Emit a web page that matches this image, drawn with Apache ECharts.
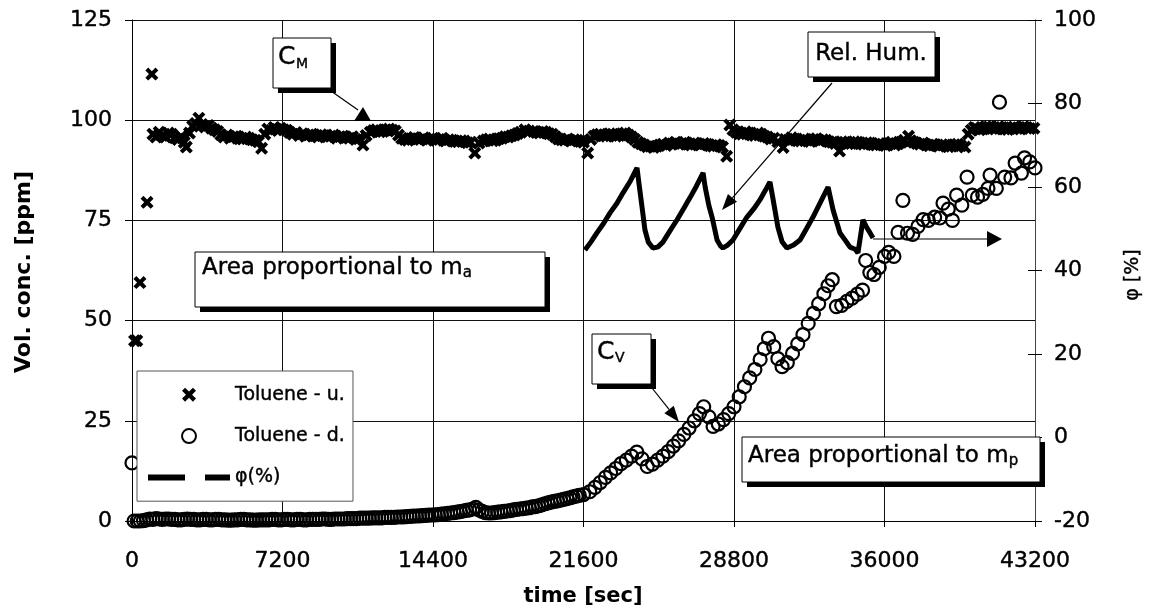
<!DOCTYPE html>
<html>
<head>
<meta charset="utf-8">
<script src="https://cdn.jsdelivr.net/npm/echarts@6/dist/echarts.min.js"></script>
<style>
html,body{margin:0;padding:0;background:#fff;}
#chart{width:1150px;height:615px;}
</style>
</head>
<body>
<div id="chart"></div>
<script>
// ---- data (time [sec], value) ----
var xTicks = [0, 7200, 14400, 21600, 28800, 36000, 43200];
var leftTicks = [0, 25, 50, 75, 100, 125];
var rightTicks = [-20, 0, 20, 40, 60, 80, 100];

// Toluene upstream (crosses), Vol. conc. [ppm]
var tolueneU = [
[120,45],[230,45],[380,59.5],[720,79.5],[950,111.5],
[1000,96.5],[1150,95.8],[1300,97],[1450,96.2],[1600,95.8],[1750,96.8],[1900,96.5],[2050,95.6],[2200,95.2],[2350,95.9],[2500,94.5],[2600,93.3],[2750,96.8],[2900,98.5],[3050,99.2],[3200,100.5],[3350,98.9],[3500,98.3],[3650,98.7],[3800,98],[3950,97.6],[4100,97.2],[4250,96.4],
[4400,95.8],[4550,96.3],[4700,95.5],[4850,95.9],[5000,96],[5150,95.4],[5300,95.3],[5450,95.8],[5600,95.5],[5750,95.1],[5900,95],[6050,94.6],[6200,93],
[6350,96.5],[6500,97.8],[6650,97.4],[6800,98.2],[6950,97.7],[7100,98],[7250,97.6],[7400,97.5],[7550,96.9],
[7700,96.5],[7850,96.9],[8000,96.2],[8150,96.6],[8300,96],[8450,96.3],[8600,96.5],[8750,96.1],[8900,95.8],[9050,96.4],[9200,96.2],[9350,95.9],[9500,96],[9650,96.3],[9800,95.5],[9950,95.9],[10100,96],[10250,95.7],[10400,95.5],[10550,95.9],[10700,95.2],[10850,95.4],[11050,93.8],[11200,96.2],
[11400,97],[11550,97.4],[11700,97.6],[11850,97.1],[12000,97.2],[12150,97.6],[12300,97.8],[12450,97.5],[12600,97.3],[12750,96.3],
[12900,95.5],[13050,95.2],[13200,95],[13350,95.4],[13500,95.7],[13650,95.3],[13800,95.2],[13950,95.6],[14100,95],[14250,95.3],[14400,95.5],[14550,95],[14700,95.2],[14850,95.5],[15000,94.8],[15150,95.1],[15300,95],[15450,94.7],[15600,94.6],[15750,94.9],[15900,94.8],[16050,94.4],[16200,94.5],[16400,91.8],[16600,94.3],
[16800,94.8],[16950,95.1],[17100,95.3],[17250,94.9],[17400,95],[17550,95.4],[17700,95.5],[17850,95.9],[18000,95.8],[18150,96.1],[18300,96.3],[18450,96.7],
[18600,97],[18800,97.6],[19000,97.3],[19200,97.2],[19350,96.9],[19500,96.8],[19650,97.2],[19800,97],[19950,96.6],[20100,96.5],[20250,95.9],
[20400,95.3],[20550,95.1],[20700,95],[20850,95.3],[21000,94.8],[21150,95.1],[21300,95],[21450,94.7],[21600,94.5],[21800,91.8],[21950,95.2],
[22100,96],[22250,96.4],[22400,96.5],[22550,96.1],[22700,96],[22850,96.6],[23000,96.5],[23150,96],[23300,96.2],[23450,96.6],[23600,96.8],[23750,96.3],[23900,95.8],[24050,95.2],
[24200,94.5],[24350,94.1],[24500,93.8],[24650,93.4],[24800,93.5],[24950,93.2],[25100,93.5],[25250,93.8],[25400,94],[25550,93.7],[25700,94.3],[25850,94.1],
[26000,94.5],[26150,94],[26300,94.2],[26450,94.5],[26600,94],[26750,93.8],[26900,94.3],[27050,94.1],[27200,93.8],[27350,94.2],[27500,94],[27650,93.6],[27800,93.5],[27950,93.9],[28100,93.7],[28250,93.3],[28450,91],
[28600,98.8],[28750,97.6],[28900,97],[29050,96.6],[29200,96.5],[29350,97.1],[29500,96.8],[29650,96.3],[29800,96.2],[29950,96.8],[30100,96.5],[30250,96],[30400,95.8],[30550,95.3],
[30700,95.5],[30900,94.6],[31150,93.2],[31250,95.2],[31400,95],[31550,95.6],[31700,95.3],[31850,94.9],[32000,94.8],[32150,95.3],[32300,95],[32450,94.7],[32600,95.2],[32750,95.4],[32900,94.8],[33050,95.1],[33200,95],[33350,94.6],[33500,94.5],[33650,94.2],
[33850,92.3],[33950,94.6],[34100,94.5],[34250,94.1],[34400,94.2],[34550,94.6],[34700,94.5],[34850,94.1],[35000,94],[35150,94.4],[35300,94.3],[35450,93.9],[35600,93.8],[35750,94.2],[35900,94],[36050,93.7],[36200,94.2],[36350,94.5],[36500,93.8],[36650,94.1],[36800,94.5],[36950,95],
[37150,96],[37250,94.9],[37400,94.5],[37550,94.2],[37700,94],[37850,94.3],[38000,93.8],[38150,93.6],[38300,94],[38450,93.8],[38600,93.5],[38750,93.9],[38900,93.8],[39050,93.4],[39200,93.5],[39350,93.9],[39500,94],[39650,93.6],[39850,93.3],
[40000,96.5],[40150,97.5],[40300,98.2],[40400,98],[40550,97.6],[40700,97.8],[40850,98.4],[41000,98.3],[41150,97.9],[41300,97.8],[41450,98.4],[41600,98.2],[41750,97.8],[41900,97.7],[42050,98.1],[42200,98.3],[42350,97.9],[42500,97.8],[42650,98.4],[42800,98.2],[42950,97.9],[43150,98]
];

// Toluene downstream (circles), Vol. conc. [ppm]
var tolueneD = [
[0,14.5],[100,0],[250,0],[400,0],[550,0.1],[700,0.3],[850,0.5],[1000,0.4],[1150,0.6],[1300,0.5],[1450,0.4],[1600,0.5],[1750,0.5],[1900,0.4],[2050,0.4],[2200,0.3],[2350,0.3],[2500,0.4],[2650,0.5],[2800,0.4],[2950,0.4],[3100,0.3],[3250,0.3],[3400,0.4],[3550,0.4],[3700,0.3],[3850,0.3],[4000,0.4],[4150,0.4],[4300,0.3],[4450,0.3],[4600,0.2],[4750,0.2],[4900,0.3],[5050,0.3],[5200,0.4],[5350,0.4],[5500,0.3],[5650,0.3],[5800,0.2],[5950,0.2],[6100,0.3],[6250,0.3],[6400,0.3],[6550,0.3],[6700,0.4],[6850,0.4],[7000,0.3],[7150,0.3],[7300,0.4],[7450,0.4],[7600,0.3],[7750,0.3],[7900,0.4],[8050,0.4],[8200,0.3],[8350,0.3],[8500,0.4],[8650,0.4],[8800,0.4],[8950,0.4],[9100,0.5],[9250,0.5],[9400,0.4],[9550,0.4],[9700,0.5],[9850,0.5],[10000,0.5],[10150,0.5],[10300,0.6],[10450,0.6],[10600,0.6],[10750,0.6],[10900,0.7],[11050,0.7],[11200,0.7],[11350,0.7],[11500,0.8],[11650,0.8],[11800,0.8],[11950,0.8],[12100,0.9],[12250,0.9],[12400,0.9],[12550,0.9],[12700,1],[12850,1],[13000,1.05],[13150,1.1],[13300,1.15],[13450,1.2],[13600,1.25],[13750,1.3],[13900,1.35],[14050,1.4],[14200,1.45],[14350,1.5],[14500,1.55],[14650,1.6],[14800,1.7],[14950,1.8],[15100,1.9],[15250,2],[15400,2.1],[15550,2.2],[15700,2.35],[15850,2.5],[16000,2.65],[16150,2.8],[16300,3],[16450,3.4],[16600,2.8],[16750,2.4],[16900,2.1],[17050,2],[17200,2],[17350,2.1],[17500,2.2],[17650,2.3],[17800,2.4],[17950,2.5],[18100,2.6],[18250,2.8],[18400,2.9],[18550,3],[18700,3.1],[18850,3.2],[19000,3.3],[19150,3.5],[19300,3.6],[19450,3.8],[19600,4],[19750,4.3],[19900,4.5],[20050,4.7],[20200,4.9],[20350,5],[20500,5.2],[20650,5.4],[20800,5.6],[20950,5.8],[21100,6],[21250,6.2],[21400,6.4],[21600,6.6],
[21900,7.3],[22150,8.4],[22400,9.6],[22650,10.9],[22900,12],[23150,13.1],[23400,14.3],[23650,15.2],[23900,16.2],[24150,17.2],[24400,15.5],[24650,13.6],[24900,14.2],[25150,15.2],[25400,16.2],[25650,17.3],[25900,18.7],[26150,20],[26400,21.6],[26650,23.2],[26900,25],[27150,26.8],[27350,28.5],[27600,26],[27800,23.6],[28050,24.2],[28300,25.3],[28550,26.8],[28800,28.5],[29050,31],[29300,33.5],[29550,35.7],[29800,37.8],[30050,40.3],[30250,43],[30450,45.6],[30700,43.5],[30900,40.5],[31100,38.5],[31350,39.5],[31600,41.8],[31850,44.2],[32100,46.5],[32350,49.3],[32600,51.8],[32850,54.2],[33100,56.7],[33300,58.7],[33500,60.2],[33700,53.5],[33950,53.8],[34200,54.8],[34450,55.6],[34700,56.6],[34950,57.6],[35100,65],[35300,62],[35500,61.5],[35750,63.3],[36000,66],[36200,67],[36450,66],[36650,72],[36880,80],[37100,71.8],[37350,71.5],[37600,73.5],[37850,75.2],[38100,75],[38400,75.8],[38650,75.6],[38800,79.3],[39050,77.8],[39250,75],[39450,81.3],[39700,78.8],[39950,85.8],[40200,81.3],[40450,80.8],[40700,81.5],[40950,83],[41050,86.3],[41350,83],[41500,104.5],[41750,85.8],[42050,85.6],[42250,89.3],[42550,86.8],[42700,90.6],[42950,89.6],[43200,88.1]
];

// Relative humidity phi [%] (right axis)
var relHum = [
[21670,44.9],[21950,46.8],[22240,49],[22550,51.2],[22870,53.8],[23200,56.1],[23490,58.6],[23850,61.5],[24160,64.6],[24250,61],[24400,55.2],[24540,49.7],[24700,46.8],[24920,45.4],[25150,45.6],[25400,46.8],[25750,49.6],[26070,52.1],[26400,54.9],[26690,57.4],[27000,60.2],[27320,63.4],[27420,60],[27600,55.5],[27750,52.8],[27990,47.3],[28150,45.9],[28270,45.4],[28500,46.1],[28750,47.3],[29100,50.2],[29420,52.8],[29750,54.8],[30040,56.9],[30300,59.2],[30520,61.2],[30650,57.6],[30900,50.4],[31100,46.9],[31330,45.4],[31650,46.1],[31960,47.3],[32280,50.1],[32580,52.8],[32950,56.5],[33300,60],[33540,54.5],[33870,49],[34100,47.4],[34350,45.6],[34600,45.1],[34730,44.2],[34970,52.1],[35150,50.3],[35310,49],[35450,47.8]
];

var FONT = 'DejaVu Sans';
var chart = echarts.init(document.getElementById('chart'), null, {renderer: 'canvas'});

var crossPath = 'path://M0,2.2 L2.2,0 L5,2.8 L7.8,0 L10,2.2 L7.2,5 L10,7.8 L7.8,10 L5,7.2 L2.2,10 L0,7.8 L2.8,5 Z';
var dashIcon = 'path://M0,0 H37 V6 H0 Z M57,0 H82 V6 H57 Z';

function box(x, y, w, h, sh) {
  return [
    {type:'rect', z:20, shape:{x:x+sh, y:y+sh, width:w, height:h}, style:{fill:'#000'}},
    {type:'rect', z:21, shape:{x:x, y:y, width:w, height:h}, style:{fill:'#fff', stroke:'#000', lineWidth:1}}
  ];
}
function arrow(x1, y1, x2, y2, len, half) {
  var dx = x2 - x1, dy = y2 - y1, L = Math.sqrt(dx*dx + dy*dy);
  var ux = dx / L, uy = dy / L;
  var bx = x2 - ux*len, by = y2 - uy*len;
  return [
    {type:'line', z:22, shape:{x1:x1, y1:y1, x2:bx, y2:by}, style:{stroke:'#000', lineWidth:1.2}},
    {type:'polygon', z:22, shape:{points:[[x2,y2],[bx - uy*half, by + ux*half],[bx + uy*half, by - ux*half]]}, style:{fill:'#000'}}
  ];
}
function txt(x, y, text, size, extra) {
  var s = {x:x, y:y, text:text, font: size + 'px "' + FONT + '"', fill:'#000', verticalAlign:'middle', align:'left', stroke:'#000', lineWidth:0.4};
  if (extra) for (var k in extra) s[k] = extra[k];
  return {type:'text', z:23, style:s};
}
var subRich = {
  m: {fontFamily: FONT, fontSize: 23, lineHeight: 30, verticalAlign: 'middle', fill: '#000', stroke: '#000', lineWidth: 0.4},
  s: {fontFamily: FONT, fontSize: 15, lineHeight: 30, verticalAlign: 'bottom', padding: [0,0,2,0], fill: '#000', stroke: '#000', lineWidth: 0.4}
};

var graphics = [];
graphics = graphics
  // C_M
  .concat(box(273, 38, 58, 50, 5))
  .concat([txt(278, 57, 'C', 25), txt(296, 64, 'M', 14)])
  .concat([{type:'line', z:22, shape:{x1:331, y1:91, x2:358, y2:110}, style:{stroke:'#000', lineWidth:1.2}},
           {type:'polygon', z:22, shape:{points:[[363,107],[354,121],[371,121]]}, style:{fill:'#000'}}])
  // Area proportional to m_a
  .concat(box(195, 252, 350, 55, 5))
  .concat([{type:'text', z:23, style:{x:202, y:268, text:'{m|Area proportional to m}{s|a}', rich:subRich, verticalAlign:'middle', fill:'#000'}}])
  // Rel. Hum.
  .concat(box(808, 32, 127, 45, 5))
  .concat([txt(871, 54, 'Rel. Hum.', 23, {align:'center'})])
  .concat(arrow(832, 83, 722, 210, 16, 6))
  // C_V
  .concat(box(592, 334, 59, 50, 5))
  .concat([txt(597, 352, 'C', 25), txt(615, 358, 'V', 14)])
  .concat(arrow(652, 388, 679, 422, 16, 6))
  // Area proportional to m_p
  .concat(box(742, 437, 298, 45, 5))
  .concat([{type:'text', z:23, style:{x:748, y:456, text:'{m|Area proportional to m}{s|p}', rich:subRich, verticalAlign:'middle', fill:'#000'}}])
  // right-pointing arrow (humidity belongs to right axis)
  .concat(arrow(873, 239, 1002, 239, 15, 8))
  // axis titles
  .concat([
    {type:'text', z:23, rotation:Math.PI/2, x:24, y:272, style:{text:'Vol. conc. [ppm]', font:'bold 22px "' + FONT + '"', fill:'#000', align:'center', verticalAlign:'middle'}},
    {type:'text', z:23, rotation:Math.PI/2, x:1133, y:275, style:{text:'φ [%]', font:'19px "' + FONT + '"', fill:'#000', align:'center', verticalAlign:'middle', stroke:'#000', lineWidth:0.4}},
    {type:'text', z:23, x:583, y:597, style:{text:'time [sec]', font:'bold 21px "' + FONT + '"', fill:'#000', align:'center', verticalAlign:'middle'}}
  ]);

var plainNum = function (v) { return String(v); };
var tickLabel = {fontFamily: FONT, fontSize: 22, color: '#000', formatter: plainNum, textBorderColor: '#000', textBorderWidth: 0.4};
function lab(extra) { var o = {}; for (var k in tickLabel) o[k] = tickLabel[k]; for (var j in extra) o[j] = extra[j]; return o; }

var option = {
  animation: false,
  backgroundColor: '#fff',
  textStyle: {fontFamily: FONT, color: '#000'},
  grid: {left: 132, right: 115, top: 20, bottom: 94, show: false},
  legend: {
    orient: 'vertical', left: 137, top: 371,
    padding: [14, 8, 14, 11],
    itemWidth: 82, itemHeight: 14, itemGap: 22,
    backgroundColor: '#fff', borderColor: '#555', borderWidth: 1,
    textStyle: {fontFamily: FONT, fontSize: 19, color: '#000', textBorderColor: '#000', textBorderWidth: 0.4},
    z: 10,
    data: [
      {name: 'Toluene - u.'},
      {name: 'Toluene - d.'},
      {name: 'φ(%)', icon: dashIcon, itemStyle: {color: '#000', borderWidth: 0}}
    ]
  },
  xAxis: {
    type: 'value', min: xTicks[0], max: xTicks[xTicks.length-1], interval: 7200,
    axisLine: {show: true, lineStyle: {color: '#000', width: 1}},
    axisTick: {show: true, length: 6, lineStyle: {color: '#000'}},
    axisLabel: lab({margin: 29}),
    splitLine: {show: true, lineStyle: {color: '#111', width: 1}}
  },
  yAxis: [
    {
      type: 'value', position: 'left', min: leftTicks[0], max: leftTicks[leftTicks.length-1], interval: 25,
      axisLine: {show: true, lineStyle: {color: '#000', width: 1}},
      axisTick: {show: true, length: 7, lineStyle: {color: '#000'}},
      axisLabel: lab({margin: 20}),
      splitLine: {show: true, lineStyle: {color: '#111', width: 1}}
    },
    {
      type: 'value', position: 'right', min: rightTicks[0], max: rightTicks[rightTicks.length-1], interval: 20,
      axisLine: {show: true, onZero: false, lineStyle: {color: '#444', width: 1}},
      axisTick: {show: true, length: 7, lineStyle: {color: '#000'}},
      axisLabel: lab({margin: 19}),
      splitLine: {show: false}
    },
    {
      type: 'value', position: 'right', min: rightTicks[0], max: rightTicks[rightTicks.length-1], interval: 20,
      axisLine: {show: false},
      axisTick: {show: true, inside: true, length: 7, lineStyle: {color: '#000'}},
      axisLabel: {show: false},
      splitLine: {show: false}
    }
  ],
  series: [
    {
      name: 'Toluene - u.', type: 'scatter', yAxisIndex: 0,
      symbol: crossPath, symbolSize: 13,
      itemStyle: {color: '#000', opacity: 1},
      data: tolueneU, z: 3
    },
    {
      name: 'Toluene - d.', type: 'scatter', yAxisIndex: 0,
      symbol: 'circle', symbolSize: 13,
      itemStyle: {color: 'rgba(0,0,0,0)', borderColor: '#000', borderWidth: 2.2, opacity: 1},
      data: tolueneD, z: 3
    },
    {
      name: 'φ(%)', type: 'line', yAxisIndex: 1,
      symbol: 'none', showSymbol: false,
      lineStyle: {color: '#000', width: 5},
      itemStyle: {color: '#000'},
      data: relHum, z: 4
    }
  ],
  graphic: graphics
};
chart.setOption(option);
</script>
</body>
</html>
